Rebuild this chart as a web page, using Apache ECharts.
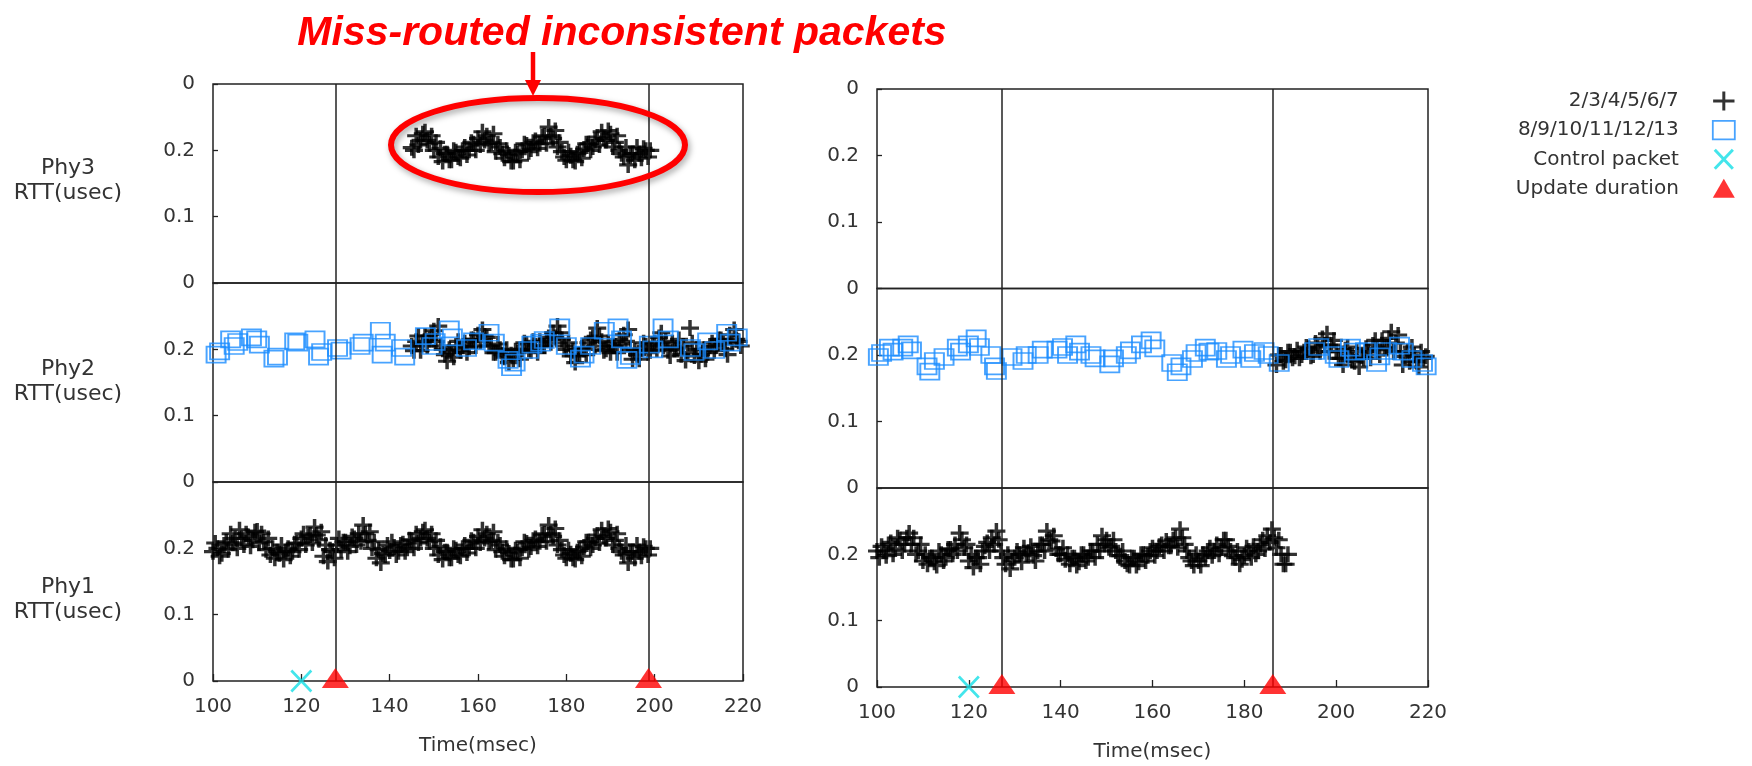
<!DOCTYPE html>
<html><head><meta charset="utf-8">
<script src="https://cdn.jsdelivr.net/npm/echarts@6/dist/echarts.min.js"></script>
<style>html,body{margin:0;padding:0;background:#fff}#c{width:1752px;height:766px}</style>
</head><body><div id="c"></div>
<script>
// ---------- data ----------
const titleText = 'Miss-routed inconsistent packets';
const xTicks = [100, 120, 140, 160, 180, 200, 220];
const yTickLabels = ['0', '0.1', '0.2', '0'];
const panelNames = ['Phy3\nRTT(usec)', 'Phy2\nRTT(usec)', 'Phy1\nRTT(usec)'];
const seriesNames = ['2/3/4/5/6/7', '8/9/10/11/12/13', 'Control packet', 'Update duration'];
const xAxisName = 'Time(msec)';

const leftUpdate = [127.7, 198.6];
const rightUpdate = [127.2, 186.2];
const leftControl = [[120, 0]];
const rightControl = [[120, 0]];
const leftUpdatePts = [[127.7, 0], [198.6, 0]];
const rightUpdatePts = [[127.2, 0], [186.2, 0]];

const leftPhy1 = [[100,0.195],[101,0.200],[102,0.192],[103,0.210],[104,0.222],[105,0.215],[106,0.228],[107,0.205],[108,0.218],[109,0.212],
[110,0.226],[111,0.222],[112,0.198],[113,0.190],[114,0.185],[115,0.192],[116,0.183],[117,0.200],[118,0.195],[119,0.208],
[120,0.215],[121,0.205],[122,0.220],[123,0.232],[124,0.213],[125,0.188],[126,0.180],[127,0.195],[128,0.205],[129,0.198],
[130,0.210],[131,0.203],[132,0.215],[133,0.222],[134,0.235],[135,0.212],[136,0.200],[137,0.185],[138,0.178],[139,0.190],
[140,0.196],[141,0.202],[142,0.195],[143,0.207],[144,0.200],[145,0.212],[146,0.222],[147,0.215],[148,0.228],[149,0.210],
[150,0.200],[151,0.190],[152,0.183],[153,0.195],[154,0.185],[155,0.198],[156,0.188],[157,0.205],[158,0.200],[159,0.210],
[160,0.218],[161,0.228],[162,0.222],[163,0.212],[164,0.198],[165,0.205],[166,0.188],[167,0.193],[168,0.183],[169,0.195],
[170,0.200],[171,0.208],[172,0.202],[173,0.215],[174,0.210],[175,0.222],[176,0.235],[177,0.218],[178,0.205],[179,0.198],
[180,0.185],[181,0.192],[182,0.183],[183,0.197],[184,0.202],[185,0.210],[186,0.205],[187,0.220],[188,0.228],[189,0.215],
[190,0.225],[191,0.212],[192,0.200],[193,0.190],[194,0.178],[195,0.195],[196,0.205],[197,0.188],[198,0.200],[199,0.200]];
const leftPhy1b = [[100.5,0.208],[101.5,0.188],[102.5,0.205],[103.5,0.198],[104.5,0.208],[105.5,0.200],[106.5,0.215],[107.5,0.222],[108.5,0.203],[109.5,0.225],
[110.5,0.208],[111.5,0.210],[112.5,0.215],[113.5,0.200],[114.5,0.195],[115.5,0.205],[116.5,0.195],[117.5,0.188],[118.5,0.207],[119.5,0.198],
[120.5,0.222],[121.5,0.218],[122.5,0.208],[123.5,0.220],[124.5,0.225],[125.5,0.205],[126.5,0.198],[127.5,0.185],[128.5,0.215],[129.5,0.210],
[130.5,0.195],[131.5,0.218],[132.5,0.205],[133.5,0.210],[134.5,0.222],[135.5,0.225],[136.5,0.210],[137.5,0.198],[138.5,0.192],[139.5,0.205],
[140.5,0.210],[141.5,0.190],[142.5,0.205],[143.5,0.195],[144.5,0.213],[145.5,0.200],[146.5,0.208],[147.5,0.225],[148.5,0.215],[149.5,0.222],
[150.5,0.212],[151.5,0.203],[152.5,0.195],[153.5,0.185],[154.5,0.200],[155.5,0.190],[156.5,0.200],[157.5,0.193],[158.5,0.212],[159.5,0.200],
[160.5,0.208],[161.5,0.215],[162.5,0.210],[163.5,0.225],[164.5,0.210],[165.5,0.195],[166.5,0.200],[167.5,0.183],[168.5,0.198],[169.5,0.185],
[170.5,0.210],[171.5,0.198],[172.5,0.212],[173.5,0.203],[174.5,0.220],[175.5,0.210],[176.5,0.222],[177.5,0.230],[178.5,0.212],[179.5,0.190],
[180.5,0.198],[181.5,0.185],[182.5,0.195],[183.5,0.188],[184.5,0.210],[185.5,0.200],[186.5,0.215],[187.5,0.208],[188.5,0.218],[189.5,0.230],
[190.5,0.205],[191.5,0.222],[192.5,0.195],[193.5,0.205],[194.5,0.192],[195.5,0.185],[196.5,0.195],[197.5,0.203],[198.5,0.190]];

const leftPhy3 = [[145,0.204],[146,0.222],[147,0.215],[148,0.228],[149,0.210],
[150,0.200],[151,0.190],[152,0.183],[153,0.195],[154,0.185],[155,0.198],[156,0.188],[157,0.205],[158,0.200],[159,0.210],
[160,0.218],[161,0.228],[162,0.222],[163,0.212],[164,0.198],[165,0.205],[166,0.188],[167,0.193],[168,0.183],[169,0.195],
[170,0.200],[171,0.208],[172,0.202],[173,0.215],[174,0.210],[175,0.222],[176,0.235],[177,0.218],[178,0.205],[179,0.198],
[180,0.185],[181,0.192],[182,0.183],[183,0.197],[184,0.202],[185,0.210],[186,0.205],[187,0.220],[188,0.228],[189,0.215],
[190,0.225],[191,0.212],[192,0.200],[193,0.190],[194,0.178],[195,0.195],[196,0.205],[197,0.188],[198,0.200],[199,0.200]];
const leftPhy3b = [[145.5,0.200],[146.5,0.208],[147.5,0.225],[148.5,0.215],[149.5,0.222],
[150.5,0.212],[151.5,0.203],[152.5,0.195],[153.5,0.185],[154.5,0.200],[155.5,0.190],[156.5,0.200],[157.5,0.193],[158.5,0.212],[159.5,0.200],
[160.5,0.208],[161.5,0.215],[162.5,0.210],[163.5,0.225],[164.5,0.210],[165.5,0.195],[166.5,0.200],[167.5,0.183],[168.5,0.198],[169.5,0.185],
[170.5,0.210],[171.5,0.198],[172.5,0.212],[173.5,0.203],[174.5,0.220],[175.5,0.210],[176.5,0.222],[177.5,0.230],[178.5,0.212],[179.5,0.190],
[180.5,0.198],[181.5,0.185],[182.5,0.195],[183.5,0.188],[184.5,0.210],[185.5,0.200],[186.5,0.215],[187.5,0.208],[188.5,0.218],[189.5,0.230],
[190.5,0.205],[191.5,0.222],[192.5,0.195],[193.5,0.205],[194.5,0.192],[195.5,0.185],[196.5,0.195],[197.5,0.203],[198.5,0.190]];

const leftPhy2Plus = [[145,0.205],[146,0.212],[147,0.198],[148,0.220],[149,0.215],
[150,0.228],[151,0.235],[152,0.200],[153,0.182],[154,0.195],[155,0.205],[156,0.198],[157,0.210],[158,0.203],[159,0.215],
[160,0.222],[161,0.230],[162,0.218],[163,0.205],[164,0.195],[165,0.200],[166,0.188],[167,0.180],[168,0.185],[169,0.195],
[170,0.200],[171,0.208],[172,0.198],[173,0.205],[174,0.212],[175,0.205],[176,0.218],[177,0.225],[178,0.235],[179,0.215],
[180,0.200],[181,0.190],[182,0.180],[183,0.192],[184,0.200],[185,0.210],[186,0.218],[187,0.232],[188,0.212],[189,0.200],
[190,0.195],[191,0.205],[192,0.215],[193,0.222],[194,0.230],[195,0.185],[196,0.192],[197,0.200],[198,0.205],[199,0.198],
[200,0.210],[201,0.218],[202,0.205],[203,0.198],[204,0.210],[205,0.202],[206,0.192],[207,0.183],[208,0.232],[209,0.190],
[210,0.182],[211,0.200],[212,0.195],[213,0.210],[214,0.205],[215,0.215],[216,0.200],[217,0.222],[218,0.230],[219,0.212]];
const leftPhy2Plusb = [[145.5,0.198],[146.5,0.220],[147.5,0.210],[148.5,0.205],[149.5,0.222],
[150.5,0.212],[151.5,0.205],[152.5,0.192],[153.5,0.200],[154.5,0.188],[155.5,0.212],[156.5,0.205],[157.5,0.195],[158.5,0.215],[159.5,0.205],
[160.5,0.212],[161.5,0.220],[162.5,0.205],[163.5,0.195],[164.5,0.208],[165.5,0.192],[166.5,0.200],[167.5,0.192],[168.5,0.198],[169.5,0.185],
[170.5,0.210],[171.5,0.200],[172.5,0.212],[173.5,0.195],[174.5,0.205],[175.5,0.215],[176.5,0.210],[177.5,0.218],[178.5,0.225],[179.5,0.205],
[180.5,0.210],[181.5,0.198],[182.5,0.190],[183.5,0.202],[184.5,0.192],[185.5,0.215],[186.5,0.205],[187.5,0.220],[188.5,0.198],[189.5,0.210],
[190.5,0.205],[191.5,0.195],[192.5,0.208],[193.5,0.212],[194.5,0.200],[195.5,0.198],[196.5,0.185],[197.5,0.210],[198.5,0.195],[199.5,0.208],
[200.5,0.200],[201.5,0.225],[202.5,0.212],[203.5,0.190],[204.5,0.200],[205.5,0.215],[206.5,0.205],[207.5,0.195],[208.5,0.210],[209.5,0.200],
[210.5,0.192],[211.5,0.185],[212.5,0.205],[213.5,0.198],[214.5,0.215],[215.5,0.208],[216.5,0.192],[217.5,0.210],[218.5,0.215],[219.5,0.205]];

const leftPhy2Sq = [[100.7,0.192],[101.5,0.197],[104.0,0.215],[104.8,0.205],[105.6,0.211],[108.7,0.218],[109.9,0.215],[110.5,0.207],
[113.8,0.186],[114.6,0.189],[118.5,0.212],[119.2,0.210],[123.1,0.215],[123.9,0.189],[124.6,0.196],[128.2,0.202],[129.0,0.198],
[133.3,0.205],[134.0,0.210],[137.9,0.228],[138.3,0.192],[139.0,0.210],[142.7,0.202],[143.4,0.189],[148.1,0.220],[149.6,0.205],
[150.3,0.211],[153.5,0.230],[154.2,0.218],[157.4,0.202],[159.0,0.212],[162.5,0.225],[163.7,0.210],[166.8,0.184],[167.6,0.173],
[168.4,0.180],[171.5,0.199],[172.2,0.207],[174.2,0.210],[175.0,0.214],[178.5,0.233],[180.0,0.205],[183.2,0.186],[184.0,0.192],
[185.5,0.205],[188.6,0.228],[191.7,0.233],[192.5,0.215],[193.7,0.184],[194.5,0.190],[198.8,0.207],[199.6,0.200],[201.9,0.233],
[203.1,0.215],[208.1,0.202],[208.9,0.196],[212.0,0.212],[213.6,0.199],[216.3,0.225],[217.1,0.210],[218.7,0.218]];

const rightPhy1 = [[100,0.205],[101,0.212],[102,0.198],[103,0.218],[104,0.208],[105,0.222],[106,0.215],[107,0.232],[108,0.225],[109,0.205],
[110,0.190],[111,0.185],[112,0.195],[113,0.183],[114,0.200],[115,0.195],[116,0.208],[117,0.215],[118,0.232],[119,0.210],
[120,0.190],[121,0.180],[122,0.195],[123,0.205],[124,0.218],[125,0.225],[126,0.235],[127,0.205],[128,0.185],[129,0.178],
[130,0.195],[131,0.200],[132,0.210],[133,0.203],[134,0.198],[135,0.205],[136,0.215],[137,0.235],[138,0.220],[139,0.208],
[140,0.200],[141,0.192],[142,0.185],[143,0.195],[144,0.188],[145,0.200],[146,0.195],[147,0.205],[148,0.215],[149,0.228],
[150,0.222],[151,0.212],[152,0.205],[153,0.198],[154,0.190],[155,0.183],[156,0.195],[157,0.188],[158,0.200],[159,0.198],
[160,0.210],[161,0.205],[162,0.215],[163,0.220],[164,0.212],[165,0.225],[166,0.238],[167,0.215],[168,0.195],[169,0.183],
[170,0.190],[171,0.200],[172,0.205],[173,0.198],[174,0.215],[175,0.210],[176,0.222],[177,0.205],[178,0.195],[179,0.185],
[180,0.198],[181,0.205],[182,0.212],[183,0.205],[184,0.222],[185,0.228],[186,0.238],[187,0.210],[188,0.200],[189,0.185]];
const rightPhy1b = [[100.5,0.195],[101.5,0.205],[102.5,0.215],[103.5,0.200],[104.5,0.225],[105.5,0.205],[106.5,0.225],[107.5,0.215],[108.5,0.200],[109.5,0.215],
[110.5,0.200],[111.5,0.195],[112.5,0.188],[113.5,0.205],[114.5,0.190],[115.5,0.208],[116.5,0.200],[117.5,0.205],[118.5,0.222],[119.5,0.215],
[120.5,0.200],[121.5,0.195],[122.5,0.185],[123.5,0.212],[124.5,0.205],[125.5,0.215],[126.5,0.222],[127.5,0.195],[128.5,0.200],[129.5,0.190],
[130.5,0.205],[131.5,0.188],[132.5,0.200],[133.5,0.212],[134.5,0.190],[135.5,0.215],[136.5,0.205],[137.5,0.222],[138.5,0.228],[139.5,0.200],
[140.5,0.210],[141.5,0.200],[142.5,0.195],[143.5,0.183],[144.5,0.200],[145.5,0.190],[146.5,0.205],[147.5,0.195],[148.5,0.205],[149.5,0.215],
[150.5,0.210],[151.5,0.222],[152.5,0.198],[153.5,0.205],[154.5,0.185],[155.5,0.195],[156.5,0.183],[157.5,0.200],[158.5,0.190],[159.5,0.205],
[160.5,0.198],[161.5,0.212],[162.5,0.205],[163.5,0.212],[164.5,0.222],[165.5,0.210],[166.5,0.225],[167.5,0.205],[168.5,0.190],[169.5,0.200],
[170.5,0.183],[171.5,0.195],[172.5,0.210],[173.5,0.205],[174.5,0.200],[175.5,0.222],[176.5,0.212],[177.5,0.198],[178.5,0.205],[179.5,0.192],
[180.5,0.210],[181.5,0.195],[182.5,0.200],[183.5,0.215],[184.5,0.208],[185.5,0.218],[186.5,0.225],[187.5,0.222],[188.5,0.185],[189.5,0.200]];

const rightPhy2Plus = [[187,0.185],[188,0.200],[189,0.192],[190,0.205],[191,0.198],[192,0.195],[193,0.205],[194,0.210],[195,0.200],[196,0.212],
[197,0.225],[198,0.232],[199,0.215],[200,0.205],[201,0.195],[202,0.208],[203,0.200],[204,0.190],[205,0.182],[206,0.195],
[207,0.205],[208,0.215],[209,0.208],[210,0.222],[211,0.212],[212,0.235],[213,0.218],[214,0.205],[215,0.198],[216,0.190],
[217,0.200],[218,0.182],[219,0.195]];
const rightPhy2Plusb = [[187.5,0.200],[188.5,0.190],[189.5,0.205],[190.5,0.195],[191.5,0.208],[192.5,0.200],[193.5,0.212],[194.5,0.198],[195.5,0.218],[196.5,0.205],
[197.5,0.215],[198.5,0.205],[199.5,0.222],[200.5,0.195],[201.5,0.185],[202.5,0.212],[203.5,0.192],[204.5,0.205],[205.5,0.198],[206.5,0.210],
[207.5,0.195],[208.5,0.222],[209.5,0.200],[210.5,0.210],[211.5,0.225],[212.5,0.205],[213.5,0.230],[214.5,0.185],[215.5,0.205],[216.5,0.212],
[217.5,0.190],[218.5,0.205],[219.5,0.198]];

const rightPhy2Sq = [[100.3,0.197],[101.0,0.203],[102.7,0.211],[103.5,0.205],[105.6,0.211],[106.8,0.216],[107.5,0.207],[110.9,0.183],
[111.5,0.175],[112.5,0.191],[114.6,0.197],[117.5,0.211],[118.2,0.205],[119.9,0.216],[121.6,0.225],[122.3,0.212],[124.8,0.200],
[125.6,0.183],[126.0,0.176],[129.4,0.197],[131.8,0.191],[132.5,0.200],[135.1,0.200],[136.0,0.208],[139.2,0.208],[140.4,0.212],
[141.5,0.200],[143.3,0.216],[144.1,0.205],[146.6,0.200],[147.5,0.195],[150.7,0.186],[151.5,0.195],[154.3,0.200],[155.2,0.207],
[157.6,0.216],[159.7,0.222],[160.5,0.210],[164.2,0.188],[165.4,0.174],[166.2,0.183],[168.7,0.194],[169.5,0.203],[171.5,0.211],
[172.3,0.205],[174.0,0.206],[176.1,0.194],[177.0,0.200],[179.7,0.208],[181.4,0.194],[182.2,0.203],[184.3,0.206],[185.2,0.200],
[187.6,0.188],[195.3,0.206],[196.2,0.212],[199.8,0.200],[200.6,0.194],[203.1,0.211],[204.0,0.205],[206.4,0.206],[208.8,0.188],
[209.5,0.198],[211.0,0.206],[213.8,0.214],[214.6,0.205],[216.5,0.194],[218.8,0.188],[219.6,0.183]];

// ---------- styling ----------
const FONT = 'DejaVu Sans';
const TXT = '#333';
const plusPath = 'path://M0,8H18M9,0V16';
const sqPath = 'path://M0,0H19V16H0Z';
const xPath = 'path://M0,0L20,21M20,0L0,21';

const grids = [
  {left:213, top:84, width:530, height:199},
  {left:213, top:283, width:530, height:199},
  {left:213, top:482, width:530, height:199},
  {left:877, top:89, width:551, height:199.5},
  {left:877, top:288.5, width:551, height:199.5},
  {left:877, top:488, width:551, height:199}
].map(g => Object.assign({show:true, borderColor:'#222', borderWidth:1.5, backgroundColor:'transparent'}, g));

const xAxes = [], yAxes = [];
for (let i = 0; i < 6; i++) {
  const row = i % 3, bottom = row === 2;
  xAxes.push({
    gridIndex:i, type:'value', min:xTicks[0], max:xTicks[xTicks.length-1], interval:20,
    axisLine:{show:false}, splitLine:{show:false},
    axisTick:{show:bottom, inside:true, length:7, lineStyle:{color:'#222', width:1.3}},
    axisLabel:{show:bottom, margin:16, fontSize:20, color:TXT, fontFamily:FONT},
    name: bottom ? xAxisName : '', nameLocation:'middle', nameGap:55,
    nameTextStyle:{fontSize:20, color:TXT, fontFamily:FONT}
  });
  yAxes.push({
    gridIndex:i, type:'value', min:0, max:0.3, interval:0.1,
    axisLine:{show:false}, splitLine:{show:false},
    axisTick:{show:true, inside:true, length:5, lineStyle:{color:'#222', width:1.3}},
    axisLabel:{margin:18, fontSize:20, color:TXT, fontFamily:FONT, showMinLabel: bottom,
      formatter: v => yTickLabels[Math.round(v * 10)]}
  });
}

function vlines(vals) {
  return {silent:true, symbol:['none','none'], label:{show:false}, animation:false,
    lineStyle:{color:'#222', width:1.5, type:'solid'},
    emphasis:{disabled:true},
    data: vals.map(v => ({xAxis:v}))};
}
function plus(idx, data, ml) {
  const s = {name:seriesNames[0], type:'scatter', xAxisIndex:idx, yAxisIndex:idx, data:data, clip:false,
    symbol:plusPath, symbolSize:[18,16], z:3,
    itemStyle:{color:'rgba(0,0,0,0)', borderColor:'#000', borderWidth:3.3}};
  if (ml) s.markLine = ml;
  return s;
}
function squares(idx, data) {
  return {name:seriesNames[1], type:'scatter', xAxisIndex:idx, yAxisIndex:idx, data:data, clip:false,
    symbol:sqPath, symbolSize:[19,16], z:4,
    itemStyle:{color:'rgba(0,0,0,0)', borderColor:'#1a8cff', borderWidth:1.8}};
}
function control(idx, data) {
  return {name:seriesNames[2], type:'scatter', xAxisIndex:idx, yAxisIndex:idx, data:data, clip:false,
    symbol:xPath, symbolSize:[20,21], z:5,
    itemStyle:{color:'rgba(0,0,0,0)', borderColor:'#14dfe6', borderWidth:2.8}};
}
function update(idx, data) {
  return {name:seriesNames[3], type:'scatter', xAxisIndex:idx, yAxisIndex:idx, data:data, clip:false,
    symbol:'triangle', symbolSize:[27,20], symbolOffset:[0,-3], z:6,
    itemStyle:{color:'#ff0000'}};
}

const series = [
  plus(0, leftPhy3.concat(leftPhy3b), vlines(leftUpdate)),
  plus(1, leftPhy2Plus.concat(leftPhy2Plusb), vlines(leftUpdate)),
  squares(1, leftPhy2Sq),
  plus(2, leftPhy1.concat(leftPhy1b), vlines(leftUpdate)),
  control(2, leftControl),
  update(2, leftUpdatePts),
  plus(3, [], vlines(rightUpdate)),
  plus(4, rightPhy2Plus.concat(rightPhy2Plusb), vlines(rightUpdate)),
  squares(4, rightPhy2Sq),
  plus(5, rightPhy1.concat(rightPhy1b), vlines(rightUpdate)),
  control(5, rightControl),
  update(5, rightUpdatePts)
];

const panelLabelY = [181, 382, 600];
const option = {
  animation:false,
  backgroundColor:'#fff',
  title:{text:titleText, left:617, top:8, textAlign:'center',
    textStyle:{color:'#ff0000', fontSize:41, fontWeight:'bold', fontStyle:'italic', fontFamily:'Liberation Sans'}},
  legend:{orient:'vertical', right:11, top:85, align:'right',
    itemWidth:22, itemHeight:19, itemGap:8, selectedMode:false,
    data:[
      {name:seriesNames[0], itemStyle:{borderWidth:3}},
      {name:seriesNames[1], itemStyle:{borderWidth:1.8}},
      {name:seriesNames[2], itemStyle:{borderWidth:3}},
      {name:seriesNames[3]}
    ],
    textStyle:{fontSize:20, color:TXT, fontFamily:FONT, padding:[0,29,0,0]}},
  grid:grids, xAxis:xAxes, yAxis:yAxes, series:series,
  graphic:[
    ...panelNames.map((t, i) => ({type:'text', x:68, y:panelLabelY[i], silent:true,
      style:{text:t, fontSize:22, fontFamily:FONT, fill:TXT, align:'center', verticalAlign:'middle', lineHeight:25}})),
    {type:'ellipse', shape:{cx:538, cy:145, rx:147, ry:47}, z:100, silent:true,
      style:{fill:'none', stroke:'#ff0000', lineWidth:6, shadowBlur:6, shadowColor:'rgba(0,0,0,0.35)', shadowOffsetX:2, shadowOffsetY:3}},
    {type:'line', shape:{x1:533, y1:52, x2:533, y2:82}, z:100, silent:true, style:{stroke:'#ff0000', lineWidth:4.5}},
    {type:'polygon', shape:{points:[[525,80],[541,80],[533,96]]}, z:100, silent:true, style:{fill:'#ff0000'}}
  ]
};
echarts.init(document.getElementById('c'), null, {renderer:'canvas'}).setOption(option);
</script>
</body></html>
